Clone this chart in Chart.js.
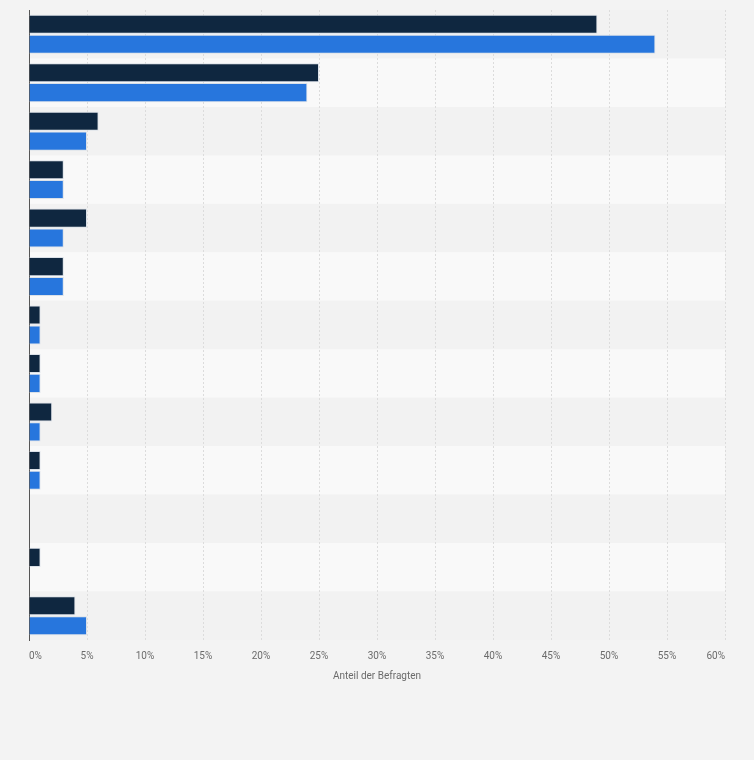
<!DOCTYPE html>
<html lang="de">
<head>
<meta charset="utf-8">
<title>Anteil der Befragten</title>
<script src="https://cdn.jsdelivr.net/npm/chart.js@4/dist/chart.umd.min.js"></script>
<style>
  html, body { margin: 0; padding: 0; background: #f3f3f3; }
  #wrap { width: 754px; height: 760px; position: relative; }
</style>
</head>
<body>
<div id="wrap"><canvas id="chart"></canvas></div>
<script>
// categories are not labelled in the picture
const categories = ["1", "2", "3", "4", "5", "6", "7", "8", "9", "10", "11", "12", "13"];
const seriesDark = [49, 25, 6, 3, 5, 3, 1, 1, 2, 1, 0, 1, 4];
const seriesBlue = [54, 24, 5, 3, 3, 3, 1, 1, 1, 1, 0, 0, 5];
const xTicks = [0, 5, 10, 15, 20, 25, 30, 35, 40, 45, 50, 55, 60];
const axisTitle = "Anteil der Befragten";

// alternating row bands, drawn before the grid
const rowBands = {
  id: "rowBands",
  beforeDraw(chart) {
    const { ctx, chartArea, scales } = chart;
    const y = scales.y;
    const step = categories.length > 1 ? y.getPixelForValue(1) - y.getPixelForValue(0) : chartArea.height;
    ctx.save();
    categories.forEach((c, i) => {
      const mid = y.getPixelForValue(i);
      ctx.fillStyle = i % 2 === 0 ? "#f2f2f2" : "#f9f9f9";
      ctx.fillRect(chartArea.left, mid - step / 2, chartArea.right - chartArea.left, step);
    });
    ctx.restore();
  },
};

Chart.defaults.font.family = "Roboto, 'Liberation Sans', sans-serif";

new Chart(document.getElementById("chart"), {
  type: "bar",
  data: {
    labels: categories,
    datasets: [
      { label: "Dunkel", data: seriesDark, backgroundColor: "#0f2740", borderColor: "rgba(215,222,230,0.9)", borderWidth: 1 },
      { label: "Blau", data: seriesBlue, backgroundColor: "#2776dd", borderColor: "rgba(215,222,230,0.9)", borderWidth: 1 },
    ],
  },
  options: {
    indexAxis: "y",
    responsive: true,
    maintainAspectRatio: false,
    animation: false,
    categoryPercentage: 0.82,
    barPercentage: 0.96,
    layout: { padding: { left: 29, right: 29, top: 10, bottom: 74 } },
    plugins: { legend: { display: false }, tooltip: { enabled: false } },
    scales: {
      x: {
        min: 0,
        max: 60,
        afterBuildTicks: (axis) => { axis.ticks = xTicks.map((v) => ({ value: v })); },
        grid: { color: "#dcdcdc", drawTicks: false },
        border: { display: false, dash: [2, 2] },
        ticks: {
          color: "#6b6b6b",
          font: { size: 10 },
          padding: 10,
          align: "inner",
          maxRotation: 0,
          callback: (v) => v + "%",
        },
        title: { display: true, text: axisTitle, color: "#6b6b6b", font: { size: 10 }, padding: { top: -2, bottom: 4 } },
      },
      y: {
        grid: { display: false, drawTicks: false },
        border: { display: true, color: "#555", width: 1 },
        ticks: { display: false },
      },
    },
  },
  plugins: [rowBands],
});
</script>
</body>
</html>
